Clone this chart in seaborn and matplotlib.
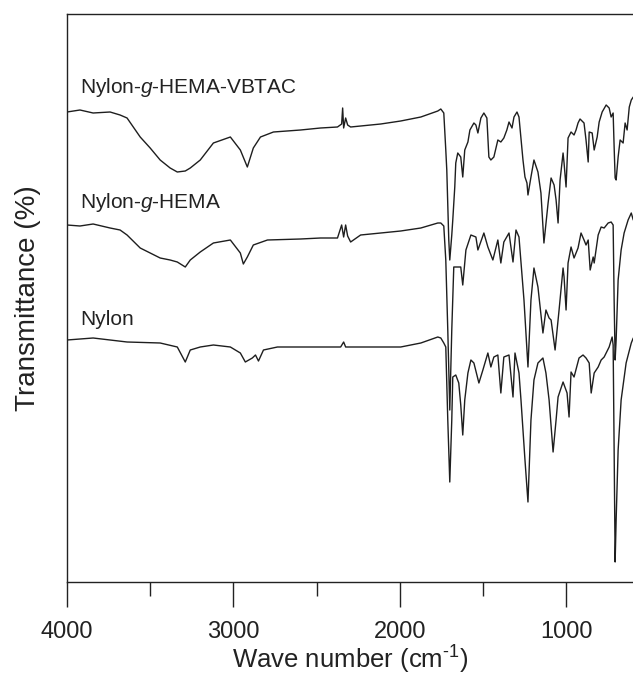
import matplotlib
matplotlib.use("Agg")
import matplotlib.pyplot as plt
import seaborn as sns
import pandas as pd

# Wavenumbers (cm-1) and transmittance (arbitrary offset units)
vbtac_wn = [4000, 3922, 3843, 3741, 3681, 3639, 3560, 3500, 3440, 3380, 3337, 3289, 3259, 3199,
            3120, 3018, 2958, 2916, 2880, 2837, 2759, 2596, 2476, 2374, 2349, 2343, 2337, 2325,
            2313, 2295, 2114, 1994, 1873, 1771, 1753, 1735, 1723, 1717, 1705, 1699, 1687, 1681,
            1669, 1663, 1651, 1633, 1621, 1609, 1590, 1578, 1554, 1542, 1530, 1512, 1494, 1476,
            1464, 1452, 1434, 1410, 1392, 1374, 1356, 1343, 1325, 1313, 1295, 1283, 1259, 1247,
            1235, 1229, 1211, 1193, 1169, 1151, 1133, 1108, 1090, 1072, 1060, 1048, 1036, 1018,
            1012, 1000, 988, 970, 952, 940, 928, 916, 892, 880, 867, 861, 843, 831, 813, 801,
            783, 759, 741, 729, 717, 711, 705, 699, 687, 675, 657, 645, 633, 620, 608, 596]
vbtac_t = [470, 472, 469, 470, 467, 464, 445, 434, 422, 414, 410, 411, 414, 422,
           439, 445, 432, 415, 434, 445, 450, 452, 454, 455, 458, 474, 454, 464,
           457, 455, 458, 461, 465, 471, 473, 469, 432, 412, 342, 322, 347, 362,
           395, 419, 429, 425, 405, 432, 440, 452, 459, 457, 449, 464, 469, 464,
           425, 422, 425, 442, 440, 444, 452, 460, 454, 465, 470, 465, 422, 405,
           399, 387, 405, 422, 410, 389, 339, 379, 404, 397, 382, 359, 402, 429,
           419, 395, 444, 450, 447, 452, 459, 463, 459, 442, 420, 450, 449, 432,
           445, 460, 470, 477, 474, 465, 469, 435, 404, 402, 425, 442, 439, 459,
           452, 475, 482, 485]

hema_wn = [4000, 3922, 3843, 3741, 3681, 3639, 3560, 3500, 3440, 3380, 3337, 3289, 3259, 3199,
           3120, 3018, 2958, 2940, 2916, 2880, 2795, 2596, 2476, 2374, 2349, 2337, 2325, 2313,
           2295, 2235, 2114, 1994, 1873, 1771, 1753, 1735, 1723, 1711, 1699, 1687, 1675, 1663,
           1633, 1621, 1602, 1572, 1542, 1530, 1494, 1470, 1440, 1410, 1392, 1374, 1343, 1319,
           1301, 1283, 1253, 1229, 1211, 1193, 1169, 1139, 1121, 1102, 1090, 1066, 1042, 1018,
           1012, 1000, 988, 970, 952, 928, 910, 892, 880, 867, 855, 837, 831, 807, 789, 771,
           747, 729, 717, 711, 705, 699, 687, 669, 651, 627, 608, 596]
hema_t = [357, 356, 358, 354, 352, 347, 334, 329, 324, 322, 320, 315, 322, 330,
          339, 342, 329, 318, 325, 337, 342, 343, 344, 344, 357, 345, 357, 346,
          340, 347, 349, 351, 354, 359, 359, 356, 322, 252, 172, 252, 315, 315,
          315, 297, 332, 347, 345, 332, 349, 335, 322, 342, 319, 340, 349, 320,
          352, 345, 282, 215, 282, 314, 295, 249, 272, 264, 262, 232, 272, 314,
          305, 272, 319, 335, 324, 334, 349, 342, 337, 342, 312, 325, 319, 347,
          355, 354, 359, 360, 357, 282, 222, 242, 302, 332, 349, 362, 369, 362]

nylon_wn = [4000, 3843, 3639, 3440, 3337, 3289, 3259, 3199, 3120, 3018, 2958, 2928, 2886, 2867,
            2849, 2819, 2735, 2596, 2355, 2337, 2325, 2235, 1994, 1873, 1771, 1753, 1735, 1723,
            1711, 1699, 1687, 1681, 1663, 1645, 1633, 1621, 1609, 1590, 1572, 1554, 1524, 1500,
            1470, 1452, 1434, 1410, 1392, 1374, 1343, 1319, 1307, 1283, 1271, 1247, 1229, 1211,
            1193, 1169, 1139, 1121, 1102, 1078, 1060, 1048, 1018, 994, 982, 970, 952, 922, 898,
            880, 861, 849, 831, 807, 789, 771, 741, 723, 717, 711, 705, 699, 687, 669, 639, 608, 596]
nylon_t = [242, 244, 240, 239, 235, 220, 232, 235, 237, 235, 229, 220, 224, 227,
           221, 232, 235, 235, 235, 240, 235, 235, 235, 239, 245, 244, 239, 235,
           162, 100, 162, 205, 207, 199, 177, 147, 182, 209, 222, 219, 199, 212,
           229, 215, 225, 227, 189, 225, 227, 185, 229, 209, 182, 122, 80, 162,
           202, 219, 224, 209, 182, 130, 162, 185, 200, 189, 165, 210, 205, 224,
           227, 224, 219, 189, 209, 215, 222, 225, 235, 245, 237, 132, 20, 62,
           132, 182, 219, 239, 244]

series = [("Nylon-g-HEMA-VBTAC", vbtac_wn, vbtac_t),
          ("Nylon-g-HEMA", hema_wn, hema_t),
          ("Nylon", nylon_wn, nylon_t)]
labels = [r"Nylon-$\it{g}$-HEMA-VBTAC", r"Nylon-$\it{g}$-HEMA", "Nylon"]
label_pos = [(3920, 483), (3920, 368), (3920, 253)]

sns.set_style("ticks")
plt.rcParams["font.family"] = ["Liberation Sans", "DejaVu Sans"]
plt.rcParams["mathtext.fontset"] = "custom"
plt.rcParams["mathtext.it"] = "Liberation Sans:italic"
plt.rcParams["mathtext.rm"] = "Liberation Sans"

fig = plt.figure(figsize=(6.33, 6.79), dpi=100)
ax = fig.add_axes([67 / 633, 97 / 679, 1 - 67 / 633 + 0.002, (582 - 14) / 679])

for name, wn, t in series:
    df = pd.DataFrame({"wn": wn, "t": t})
    sns.lineplot(data=df, x="wn", y="t", ax=ax, color="#1e1e1e", lw=1.0,
                 estimator=None, sort=False)

for lab, (x, y) in zip(labels, label_pos):
    ax.text(x, y, lab, fontsize=15, color="#222222", ha="left", va="bottom")

ax.set_xlim(4000, 590)
ax.set_ylim(0, 568)
ax.set_xticks([4000, 3000, 2000, 1000])
ax.set_xticks([3500, 2500, 1500], minor=True)
ax.set_xticklabels(["4000", "3000", "2000", "1000"])
ax.set_yticks([])
ax.tick_params(axis="x", which="major", length=18, width=1.0, direction="out",
               labelsize=17, pad=10, color="#222222", labelcolor="#222222")
ax.tick_params(axis="x", which="minor", length=10, width=1.0, direction="out", color="#222222")
ax.set_xlabel("Wave number (cm$^{\\mathrm{\u2010}1}$)", fontsize=18.5, color="#222222", labelpad=1)
ax.set_ylabel("Transmittance (%)", fontsize=20, color="#222222", labelpad=19)
for side in ["left", "top", "bottom"]:
    ax.spines[side].set_linewidth(1.0)
    ax.spines[side].set_color("#222222")
ax.spines["right"].set_visible(False)

fig.savefig("out.png", dpi=100)
